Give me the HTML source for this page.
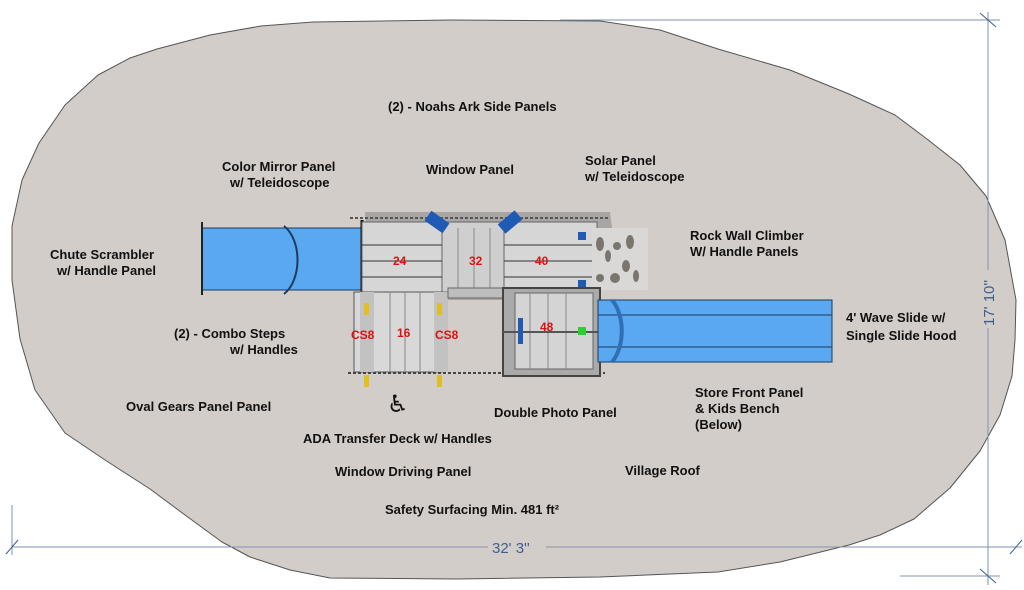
<!DOCTYPE html>
<html><head><meta charset="utf-8"><style>
html,body{margin:0;padding:0;background:#fff;width:1024px;height:590px;overflow:hidden}
svg{display:block}
.l{font-family:"Liberation Sans",Arial,sans-serif;font-weight:bold;font-size:13px;fill:#111}
.n{font-family:"Liberation Sans",Arial,sans-serif;font-weight:bold;font-size:12px;fill:#e01010}
.d{font-family:"Liberation Sans",Arial,sans-serif;font-size:15px;fill:#3d5f8f}
</style></head><body>
<svg width="1024" height="590" viewBox="0 0 1024 590" xmlns="http://www.w3.org/2000/svg">
<polygon points="261,26 313,22 450,20 600,21 660,30 718,49 790,70 849,94 895,115 927,139 960,165 986,196 1005,240 1016,300 1015,340 1012,376 1000,415 980,451 950,488 914,519 880,535 849,545 780,562 718,572 600,577 457,579 330,578 290,570 250,557 222,542 185,515 150,489 105,460 65,433 35,390 20,339 12,280 12,226 22,180 39,143 65,105 98,75 130,58 157,49 210,35" fill="#d3cdc9" stroke="#555" stroke-width="1" stroke-linejoin="round"/>
<!-- dimension lines -->
<g stroke="#7f92b3" stroke-width="1" fill="none">
<line x1="560" y1="20" x2="1000" y2="20"/>
<line x1="988" y1="12" x2="988" y2="585"/>
<line x1="12" y1="547" x2="1022" y2="547"/>
<line x1="12" y1="505" x2="12" y2="555"/>
<line x1="900" y1="576" x2="1000" y2="576"/>
<line x1="980" y1="13" x2="996" y2="27" stroke="#3d5f8f"/>
<line x1="980" y1="569" x2="996" y2="583" stroke="#3d5f8f"/>
<line x1="6" y1="554" x2="18" y2="540" stroke="#3d5f8f"/>
<line x1="1010" y1="554" x2="1022" y2="540" stroke="#3d5f8f"/>
</g>
<rect x="488" y="537" width="58" height="18" fill="#d3cdc9"/>
<text class="d" x="492" y="553">32' 3''</text>
<rect x="980" y="270" width="16" height="58" fill="#d3cdc9"/>
<text class="d" x="0" y="0" transform="translate(994,326) rotate(-90)">17' 10''</text>
<!-- shadows -->
<path d="M365,212 L610,212 L612,228 L600,228 L600,300 L370,300 Z" fill="#a9a5a2"/>
<!-- left tube -->
<rect x="202" y="228" width="160" height="62" fill="#5aa8f0" stroke="#1e3a60"/>
<line x1="202" y1="222" x2="202" y2="295" stroke="#222" stroke-width="2"/>
<path d="M284,226 C302,240 302,280 284,294" fill="none" stroke="#1e3a60" stroke-width="2"/>
<line x1="362" y1="220" x2="362" y2="300" stroke="#111" stroke-width="3"/>
<!-- top deck -->
<rect x="362" y="222" width="235" height="70" fill="#d6d6d6" stroke="#666"/>
<rect x="442" y="222" width="62" height="70" fill="#cfcfcf" stroke="#666"/>
<g stroke="#333" stroke-width="1">
<line x1="362" y1="245" x2="442" y2="245"/><line x1="362" y1="261" x2="442" y2="261"/><line x1="362" y1="277" x2="442" y2="277"/>
<line x1="504" y1="245" x2="597" y2="245"/><line x1="504" y1="261" x2="597" y2="261"/><line x1="504" y1="277" x2="597" y2="277"/>
<line x1="458" y1="228" x2="458" y2="292" stroke="#888"/><line x1="474" y1="228" x2="474" y2="292" stroke="#888"/><line x1="490" y1="228" x2="490" y2="292" stroke="#888"/>
</g>
<line x1="350" y1="218" x2="610" y2="218" stroke="#555" stroke-width="2" stroke-dasharray="3,2"/>
<rect x="426" y="216" width="22" height="12" fill="#1f5bb5" transform="rotate(35 437 222)"/>
<rect x="499" y="216" width="22" height="12" fill="#1f5bb5" transform="rotate(-40 510 222)"/>
<rect x="578" y="232" width="8" height="8" fill="#1f5bb5"/><rect x="578" y="280" width="8" height="8" fill="#1f5bb5"/>
<text class="n" x="393" y="265">24</text><text class="n" x="469" y="265">32</text><text class="n" x="535" y="265">40</text>
<!-- rock wall -->
<rect x="592" y="228" width="56" height="62" fill="#dad8d6"/>
<g fill="#7a756f">
<ellipse cx="600" cy="244" rx="4" ry="7"/><ellipse cx="608" cy="256" rx="3" ry="6"/><ellipse cx="617" cy="246" rx="4" ry="4"/><ellipse cx="630" cy="242" rx="4" ry="7"/>
<ellipse cx="626" cy="266" rx="4" ry="6"/><ellipse cx="600" cy="278" rx="4" ry="4"/><ellipse cx="615" cy="278" rx="5" ry="5"/><ellipse cx="636" cy="276" rx="3" ry="6"/>
</g>
<!-- lower deck -->
<rect x="354" y="292" width="88" height="80" fill="#d8d8d8" stroke="#555"/>
<rect x="360" y="292" width="14" height="80" fill="#c2c2c2"/>
<rect x="434" y="292" width="14" height="80" fill="#c2c2c2"/>
<g stroke="#888"><line x1="390" y1="292" x2="390" y2="372"/><line x1="405" y1="292" x2="405" y2="372"/><line x1="420" y1="292" x2="420" y2="372"/></g>
<rect x="364" y="303" width="5" height="12" fill="#e0c020"/><rect x="437" y="303" width="5" height="12" fill="#e0c020"/>
<rect x="364" y="375" width="5" height="12" fill="#e0c020"/><rect x="437" y="375" width="5" height="12" fill="#e0c020"/>
<line x1="348" y1="373" x2="605" y2="373" stroke="#444" stroke-width="2" stroke-dasharray="3,2"/>
<text class="n" x="351" y="339">CS8</text><text class="n" x="397" y="337">16</text><text class="n" x="435" y="339">CS8</text>
<rect x="448" y="288" width="56" height="10" fill="#bdbdbd" stroke="#666"/>
<!-- 48 deck -->
<rect x="503" y="288" width="97" height="88" fill="#aaa" stroke="#444" stroke-width="2"/>
<rect x="515" y="293" width="78" height="76" fill="#d4d4d4" stroke="#666"/>
<g stroke="#888"><line x1="530" y1="293" x2="530" y2="369"/><line x1="548" y1="293" x2="548" y2="369"/><line x1="566" y1="293" x2="566" y2="369"/></g>
<line x1="503" y1="332" x2="600" y2="332" stroke="#555" stroke-width="2"/>
<rect x="518" y="318" width="5" height="26" fill="#1f5bb5"/>
<rect x="578" y="327" width="8" height="8" fill="#2bd02b"/>
<text class="n" x="540" y="331">48</text>
<!-- right slide -->
<rect x="598" y="300" width="234" height="62" fill="#5aa8f0" stroke="#1e3a60"/>
<line x1="598" y1="315" x2="832" y2="315" stroke="#1e3a60"/><line x1="598" y1="347" x2="832" y2="347" stroke="#1e3a60"/>
<path d="M612,300 C625,315 625,347 612,362" fill="none" stroke="#2f6fb4" stroke-width="4"/>
<!-- wheelchair -->
<text x="387" y="412" style="font-family:'DejaVu Sans',sans-serif;font-size:24px;fill:#111">♿</text>
<!-- labels -->
<text class="l" x="388" y="111">(2) - Noahs Ark Side Panels</text>
<text class="l" x="222" y="171">Color Mirror Panel</text>
<text class="l" x="230" y="187">w/ Teleidoscope</text>
<text class="l" x="426" y="174">Window Panel</text>
<text class="l" x="585" y="165">Solar Panel</text>
<text class="l" x="585" y="181">w/ Teleidoscope</text>
<text class="l" x="690" y="240">Rock Wall Climber</text>
<text class="l" x="690" y="256">W/ Handle Panels</text>
<text class="l" x="50" y="259">Chute Scrambler</text>
<text class="l" x="57" y="275">w/ Handle Panel</text>
<text class="l" x="174" y="338">(2) - Combo Steps</text>
<text class="l" x="230" y="354">w/ Handles</text>
<text class="l" x="846" y="322">4' Wave Slide w/</text>
<text class="l" x="846" y="340">Single Slide Hood</text>
<text class="l" x="126" y="411">Oval Gears Panel Panel</text>
<text class="l" x="494" y="417">Double Photo Panel</text>
<text class="l" x="695" y="397">Store Front Panel</text>
<text class="l" x="695" y="413">&amp; Kids Bench</text>
<text class="l" x="695" y="429">(Below)</text>
<text class="l" x="303" y="443">ADA Transfer Deck w/ Handles</text>
<text class="l" x="335" y="476">Window Driving Panel</text>
<text class="l" x="625" y="475">Village Roof</text>
<text class="l" x="385" y="514">Safety Surfacing Min. 481 ft²</text>
</svg>
</body></html>
